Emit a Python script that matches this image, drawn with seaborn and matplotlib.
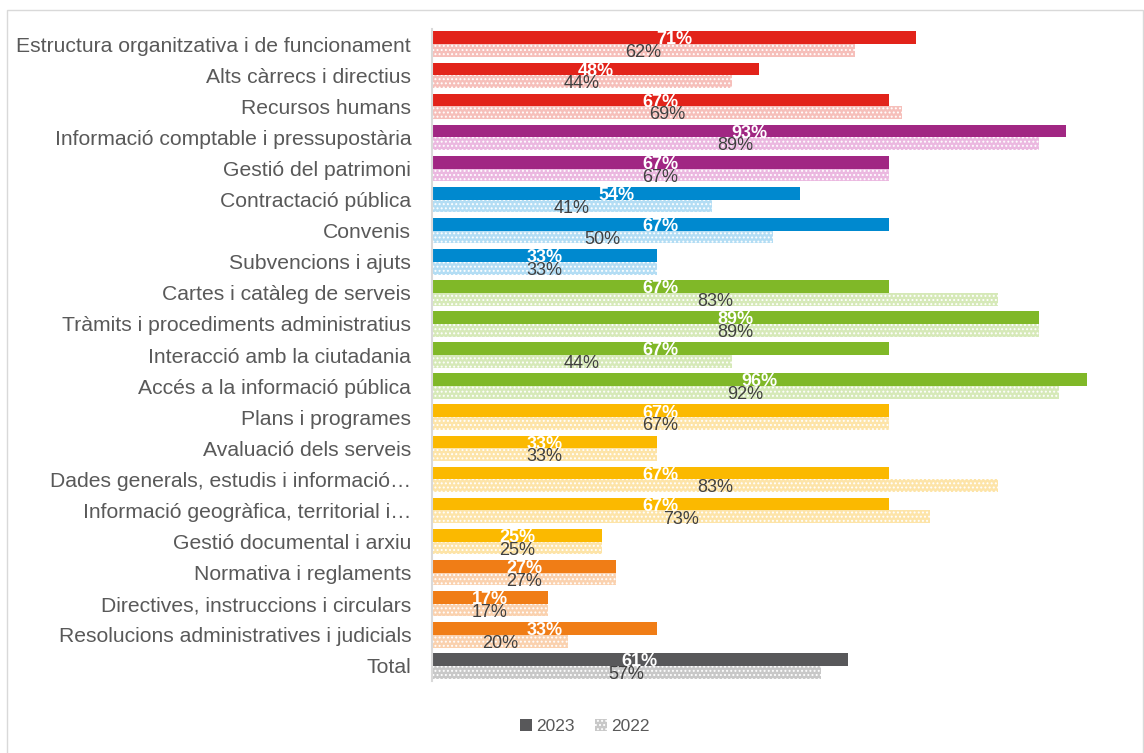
import matplotlib.pyplot as plt
import matplotlib.patches as mpatches
import seaborn as sns
import pandas as pd

categories = [
    "Estructura organitzativa i de funcionament",
    "Alts càrrecs i directius",
    "Recursos humans",
    "Informació comptable i pressupostària",
    "Gestió del patrimoni",
    "Contractació pública",
    "Convenis",
    "Subvencions i ajuts",
    "Cartes i catàleg de serveis",
    "Tràmits i procediments administratius",
    "Interacció amb la ciutadania",
    "Accés a la informació pública",
    "Plans i programes",
    "Avaluació dels serveis",
    "Dades generals, estudis i informació…",
    "Informació geogràfica, territorial i…",
    "Gestió documental i arxiu",
    "Normativa i reglaments",
    "Directives, instruccions i circulars",
    "Resolucions administratives i judicials",
    "Total",
]
values_2023 = [71, 48, 67, 93, 67, 54, 67, 33, 67, 89, 67, 96, 67, 33, 67, 67, 25, 27, 17, 33, 61]
values_2022 = [62, 44, 69, 89, 67, 41, 50, 33, 83, 89, 44, 92, 67, 33, 83, 73, 25, 27, 17, 20, 57]
years = ["2023", "2022"]

# colour blocks by theme (dark for 2023, light for 2022)
theme_colors = {
    "red": ("#E2231A", "#F6BFBA"),
    "purple": ("#A12783", "#EBB8E0"),
    "blue": ("#0089CF", "#B3DDF4"),
    "green": ("#80B828", "#D6E9B8"),
    "yellow": ("#FBB900", "#FDE4A8"),
    "orange": ("#F07D16", "#FAD1AE"),
    "gray": ("#58585A", "#C8C8C8"),
}
themes = (["red"] * 3 + ["purple"] * 2 + ["blue"] * 3 + ["green"] * 4
          + ["yellow"] * 5 + ["orange"] * 3 + ["gray"])

n = len(categories)
df = pd.DataFrame({
    "Categoria": categories * 2,
    "Valor": values_2023 + values_2022,
    "Any": [years[0]] * n + [years[1]] * n,
})

sns.set_style("white")
plt.rcParams["font.family"] = ["Liberation Sans", "DejaVu Sans"]
plt.rcParams["hatch.linewidth"] = 0.9

fig = plt.figure(figsize=(11.44, 7.53), dpi=100)
ax = fig.add_axes([0.3776, 0.095, 0.596, 0.867])

sns.barplot(data=df, y="Categoria", x="Valor", hue="Any", orient="h",
            width=0.82, gap=0, legend=False, ax=ax, saturation=1)

for bar, th, v in zip(ax.containers[0], themes, values_2023):
    bar.set_facecolor(theme_colors[th][0])
    bar.set_edgecolor("none")
    bar.set_linewidth(0)
    cx = bar.get_x() + bar.get_width() / 2
    cy = bar.get_y() + bar.get_height() / 2
    ax.text(cx, cy + 0.07, f"{v}%", ha="center", va="center",
            color="white", fontsize=13, fontweight="bold")

for bar, th, v in zip(ax.containers[1], themes, values_2022):
    bar.set_facecolor(theme_colors[th][1])
    bar.set_edgecolor("white")
    bar.set_hatch("....")
    bar.set_linewidth(0)
    cx = bar.get_x() + bar.get_width() / 2
    cy = bar.get_y() + bar.get_height() / 2
    ax.text(cx, cy + 0.07, f"{v}%", ha="center", va="center",
            color="#404040", fontsize=13)

ax.set_xlim(0, 100)
ax.set_xlabel("")
ax.set_ylabel("")
ax.set_xticks([])
ax.tick_params(axis="y", length=0, pad=15, labelsize=15.2, labelcolor="#595959")
for side in ["top", "right", "bottom"]:
    ax.spines[side].set_visible(False)
ax.spines["left"].set_color("#D9D9D9")
ax.spines["left"].set_linewidth(1.5)

handles = [
    mpatches.Patch(facecolor="#58585A", edgecolor="none", label="2023"),
    mpatches.Patch(facecolor="#C8C8C8", edgecolor="white", hatch="....",
                   linewidth=0, label="2022"),
]
fig.legend(handles=handles, loc="center", bbox_to_anchor=(0.511, 0.035),
           ncol=2, frameon=False, fontsize=12.5, labelcolor="#595959",
           handlelength=0.7, handleheight=0.7, handletextpad=0.2,
           columnspacing=1.2)

# light frame around the chart area
fig.add_artist(mpatches.Rectangle((0.006, -0.01), 0.993, 0.997,
                                  transform=fig.transFigure, fill=False,
                                  edgecolor="#D9D9D9", linewidth=1))

fig.savefig("out.png", dpi=100)
